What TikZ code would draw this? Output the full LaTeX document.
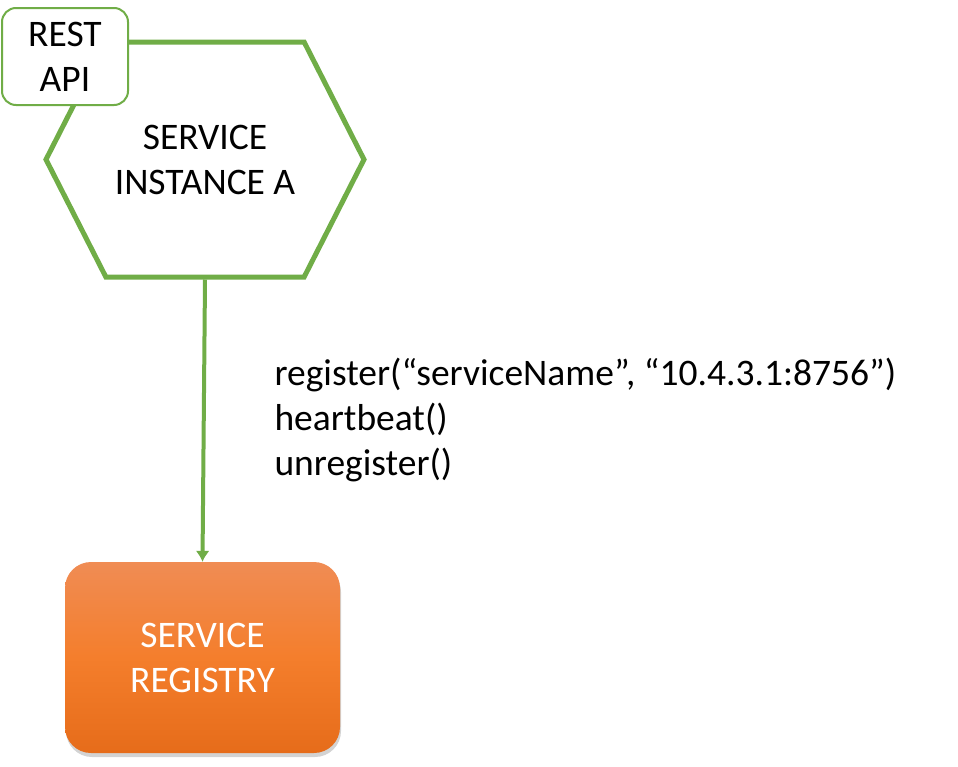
\documentclass[tikz,border=0pt]{standalone}
\usepackage{fontspec}
\setmainfont{Carlito}
\usetikzlibrary{shapes.symbols,shadows,arrows.meta}
\definecolor{instgreen}{RGB}{112,173,71}
\definecolor{regtop}{RGB}{240,140,84}
\definecolor{regmid}{RGB}{244,126,44}
\definecolor{regbot}{RGB}{230,108,26}
\begin{document}
\begin{tikzpicture}[
        x=1pt, y=-1pt,
        >={Latex[length=11pt,width=14pt]},
        font=\fontsize{37.5}{45}\selectfont,
        hexa/.style = {
            signal, signal to=east and west, signal pointer angle=126,
            draw=instgreen, line width=5pt, fill=white,
            minimum width=318pt, minimum height=235pt,
            inner sep=0pt, align=center
        },
        api/.style = {
            draw=instgreen, line width=2pt, fill=white, rounded corners=14pt,
            minimum width=126pt, minimum height=97pt, inner sep=0pt, align=center
        },
        registry/.style = {
            rounded corners=26pt, top color=regtop, bottom color=regbot, middle color=regmid,
            drop shadow={shadow xshift=1pt, shadow yshift=-4pt, opacity=0.35},
            minimum width=275pt, minimum height=191pt, inner sep=0pt,
            text=white, align=center
        }
    ]
        \useasboundingbox (0,0) rectangle (958,766);

        \node[hexa] (inst) at (205,159.5) {SERVICE\\INSTANCE A};
        \node[api] (rest) at (65,56.5) {REST\\API};

        \node[registry] (reg) at (202.5,657.5) {SERVICE\\REGISTRY};

        \draw[->, draw=instgreen, fill=instgreen, line width=4pt] (inst.south) -- (reg.north);

        \node[anchor=west, align=left] (calls) at (271,420)
            {register(“serviceName”, “10.4.3.1:8756”)\\heartbeat()\\unregister()};
    \end{tikzpicture}
\end{document}
